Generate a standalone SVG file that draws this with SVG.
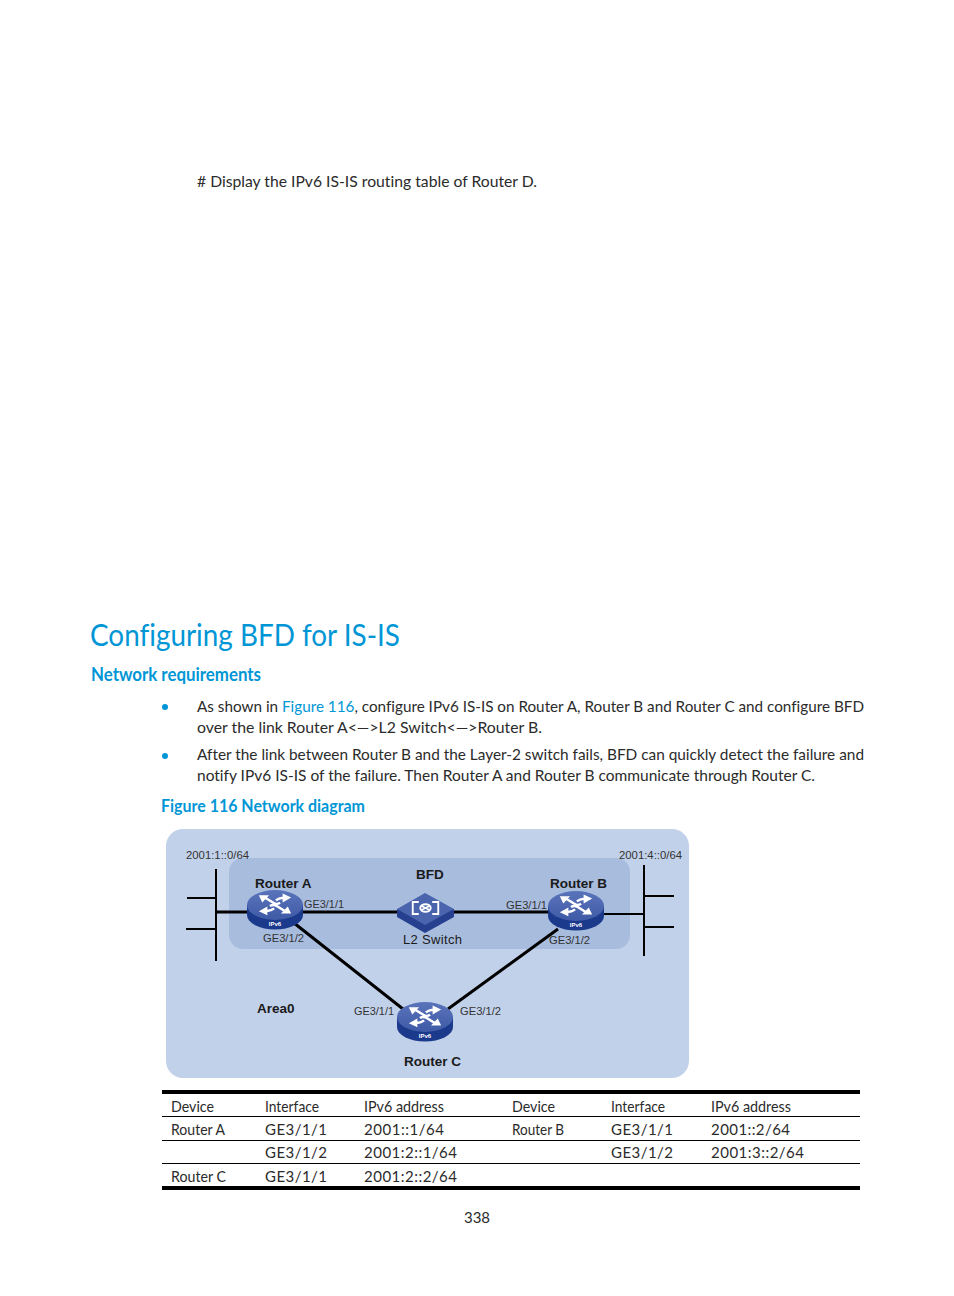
<svg xmlns="http://www.w3.org/2000/svg" width="954" height="1296" viewBox="0 0 954 1296">
<style>
text{font-family:"Lato","Open Sans","Liberation Sans",sans-serif;fill:#2b2b2b;font-variant-ligatures:none}
.b{font-size:16px}
.blue{fill:#0096d6}
.t{font-size:15px}
.d{font-family:"Liberation Sans",Arial,sans-serif;fill:#1a1a1a;font-variant-ligatures:normal}
.l{font-size:11.500px;fill:#333}
.n{font-size:13.500px;font-weight:bold}
.c{stroke:#000;stroke-width:3;fill:none}
.s{stroke:#000;stroke-width:2;fill:none}
.rule{stroke:#000;stroke-width:1}
.heavy{stroke:#000;stroke-width:4}
.ip{font-family:"Liberation Sans",Arial,sans-serif;font-size:6px;font-weight:bold;fill:#fff}
</style>
<defs>
<linearGradient id="top" x1="0" y1="0" x2="0" y2="1"><stop offset="0" stop-color="#5a74bb"/><stop offset="1" stop-color="#3f5aa6"/></linearGradient>
<g id="arrows">
<g fill="none" stroke="#fff" stroke-width="3">
<path d="M-11-7.500L-2-1.500C1 .500 3 .500 6-1.500"/>
<path d="M11-7.500H8C5-7.500 3-6 1-4.500"/>
<path d="M-11 8.500H-8C-5 8.500-3 7-1 5.500"/>
<path d="M11 8.500L2 2.500C-1 .500-3 .500-6 2.500"/>
</g>
<g fill="#fff">
<path d="M-19-11H-7L-15-2z"/>
<path d="M19-8L9-13V-2z"/>
<path d="M-19 9L-9 3V14z"/>
<path d="M19 12H7L15 3z"/>
</g>
</g>
<g id="router">
<path d="M-28 0v10a28 14.500 0 0 0 56 0v-10z" fill="#1c3a8c"/>
<ellipse cx="0" cy="0" rx="28" ry="15" fill="url(#top)"/>
<use href="#arrows" transform="translate(0 -1) scale(.85 .8)"/>
<text class="ip" x="0" y="21" text-anchor="middle">IPv6</text>
</g>
</defs>

<text class="b" x="197" y="187" textLength="340" lengthAdjust="spacingAndGlyphs"># Display the IPv6 IS-IS routing table of Router D.</text>
<text class="blue" x="90" y="646" font-size="31" textLength="310" lengthAdjust="spacingAndGlyphs">Configuring BFD for IS-IS</text>
<text class="blue" x="91" y="681" font-size="18" font-weight="bold" textLength="170" lengthAdjust="spacingAndGlyphs">Network requirements</text>
<circle cx="165" cy="707" r="3" fill="#0096d6"/>
<circle cx="165" cy="756" r="3" fill="#0096d6"/>
<text class="b" x="197" y="712" textLength="667" lengthAdjust="spacingAndGlyphs">As shown in <tspan class="blue">Figure 116</tspan>, configure IPv6 IS-IS on Router A, Router B and Router C and configure BFD</text>
<text class="b" x="197" y="733" textLength="345" lengthAdjust="spacingAndGlyphs">over the link Router A&lt;—&gt;L2 Switch&lt;—&gt;Router B.</text>
<text class="b" x="197" y="760" textLength="667" lengthAdjust="spacingAndGlyphs">After the link between Router B and the Layer-2 switch fails, BFD can quickly detect the failure and</text>
<text class="b" x="197" y="781" textLength="618" lengthAdjust="spacingAndGlyphs">notify IPv6 IS-IS of the failure. Then Router A and Router B communicate through Router C.</text>
<text class="blue" x="161" y="812" font-size="16.500" font-weight="bold" textLength="204" lengthAdjust="spacingAndGlyphs">Figure 116 Network diagram</text>

<g id="areas">
<rect x="166" y="829" width="523" height="249" rx="17" fill="#c2d1ea"/>
<rect x="229" y="858" width="401" height="91" rx="14" fill="#a8bcde"/>
</g>
<g id="connectors">
<path class="s" d="M216 869V961M187 898H216M186 929H216"/>
<path class="s" d="M644 865V956M644 896H674M644 927H674"/>
<path class="c" d="M216 912H250M300 912H400M452 912H550"/>
<path class="s" d="M600 914H644"/>
<path class="c" d="M294 923L403 1009M558 929L448 1009"/>
</g>
<g id="router-a"><use href="#router" x="275" y="905"/><text class="d n" x="255" y="888">Router A</text></g>
<g id="router-b"><use href="#router" x="576" y="906"/><text class="d n" x="550" y="888">Router B</text></g>
<g id="router-c"><use href="#router" x="425" y="1017"/><text class="d n" x="404" y="1066">Router C</text></g>
<g id="l2-switch">
<path d="M397 909V917L425 933L454 917V909z" fill="#26408f"/>
<path d="M425 893L454 909L425 925L397 909z" fill="#4a64ae"/>
<g transform="translate(425.500 908) scale(.75)" fill="none" stroke="#fff" stroke-width="2.500">
<path d="M-9-8h-8v16h8M9-8h8v16h-8"/><ellipse rx="7" ry="5"/><path d="M-6-3L6 3M-6 3L6-3"/>
</g>
<text class="d" x="403" y="944" font-size="13" textLength="59" lengthAdjust="spacing">L2 Switch</text>
</g>
<g id="labels">
<text class="d n" x="416" y="879">BFD</text>
<text class="d n" x="257" y="1013">Area0</text>
<text class="d l" x="186" y="859" textLength="63" lengthAdjust="spacingAndGlyphs">2001:1::0/64</text>
<text class="d l" x="619" y="859" textLength="63" lengthAdjust="spacingAndGlyphs">2001:4::0/64</text>
<text class="d l" x="304" y="908" textLength="40" lengthAdjust="spacingAndGlyphs">GE3/1/1</text>
<text class="d l" x="263" y="942" textLength="41" lengthAdjust="spacingAndGlyphs">GE3/1/2</text>
<text class="d l" x="506" y="909" textLength="41" lengthAdjust="spacingAndGlyphs">GE3/1/1</text>
<text class="d l" x="549" y="944" textLength="41" lengthAdjust="spacingAndGlyphs">GE3/1/2</text>
<text class="d l" x="354" y="1015" textLength="40" lengthAdjust="spacingAndGlyphs">GE3/1/1</text>
<text class="d l" x="460" y="1015" textLength="41" lengthAdjust="spacingAndGlyphs">GE3/1/2</text>
</g>

<g id="table">
<path class="heavy" d="M162 1092H860M162 1188H860"/>
<path class="rule" d="M162 1116.500H860M162 1140.500H860M162 1163.500H860"/>
<text class="t" x="171" y="1112" textLength="43" lengthAdjust="spacingAndGlyphs">Device</text><text class="t" x="265" y="1112" textLength="54" lengthAdjust="spacingAndGlyphs">Interface</text><text class="t" x="364" y="1112" textLength="80" lengthAdjust="spacingAndGlyphs">IPv6 address</text><text class="t" x="512" y="1112" textLength="43" lengthAdjust="spacingAndGlyphs">Device</text><text class="t" x="611" y="1112" textLength="54" lengthAdjust="spacingAndGlyphs">Interface</text><text class="t" x="711" y="1112" textLength="80" lengthAdjust="spacingAndGlyphs">IPv6 address</text>
<text class="t" x="171" y="1135" textLength="54" lengthAdjust="spacingAndGlyphs">Router A</text><text class="t" x="265" y="1135" textLength="62">GE3/1/1</text><text class="t" x="364" y="1135" textLength="80">2001::1/64</text><text class="t" x="512" y="1135" textLength="52" lengthAdjust="spacingAndGlyphs">Router B</text><text class="t" x="611" y="1135" textLength="62">GE3/1/1</text><text class="t" x="711" y="1135" textLength="79">2001::2/64</text>
<text class="t" x="265" y="1158" textLength="62">GE3/1/2</text><text class="t" x="364" y="1158" textLength="93">2001:2::1/64</text><text class="t" x="611" y="1158" textLength="62">GE3/1/2</text><text class="t" x="711" y="1158" textLength="93">2001:3::2/64</text>
<text class="t" x="171" y="1182" textLength="55" lengthAdjust="spacingAndGlyphs">Router C</text><text class="t" x="265" y="1182" textLength="62">GE3/1/1</text><text class="t" x="364" y="1182" textLength="93">2001:2::2/64</text>
</g>
<text class="t" x="477" y="1223" text-anchor="middle">338</text>
</svg>
